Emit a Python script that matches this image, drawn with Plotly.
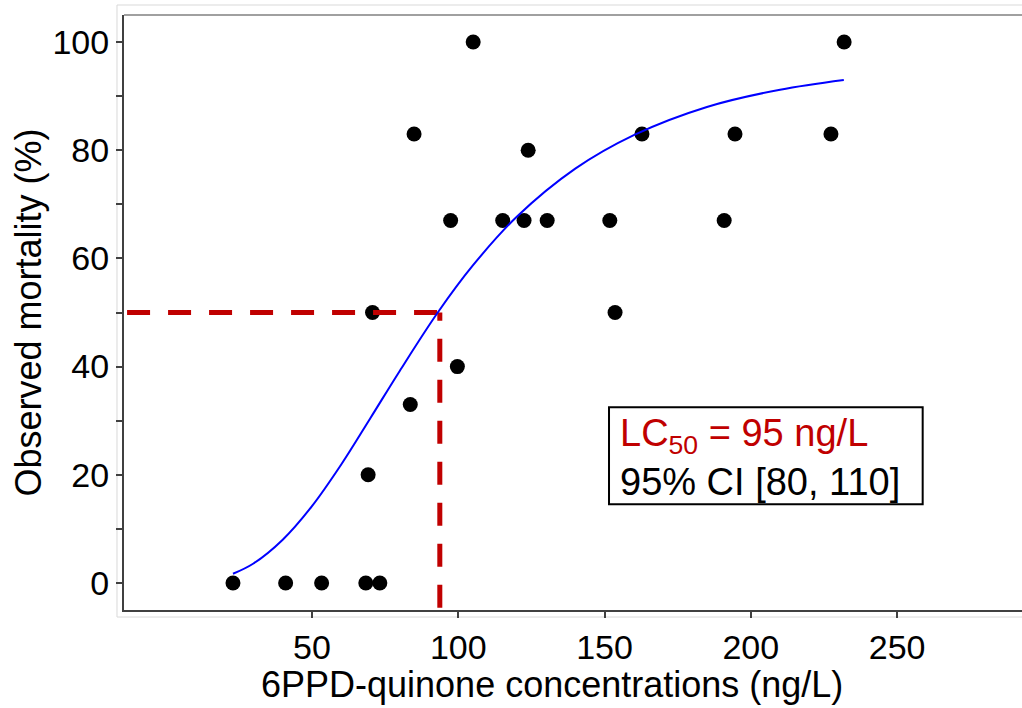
import plotly.graph_objects as go

conc = [23.0, 41.0, 53.3, 68.4, 73.2, 69.2, 70.7, 83.6, 99.7, 84.9, 97.4, 105.1,
        115.2, 122.5, 123.9, 130.4, 151.8, 153.6, 162.8, 190.9, 194.6, 227.4, 231.9]
mortality = [0, 0, 0, 0, 0, 20, 50, 33, 40, 83, 67, 100,
             67, 67, 80, 67, 67, 50, 83, 67, 83, 83, 100]

# Fitted dose-response curve
curve_x = [23, 30, 40, 50, 60, 70, 80, 93, 105, 120, 140, 160, 185, 210, 231.8]
curve_y = [1.7, 3.6, 8.0, 14.2, 21.9, 30.5, 39.2, 50, 58.7, 67.7, 76.6, 82.8, 88.0, 91.2, 93.0]

# LC50 guide lines
lc50_guide_x = 93.7
lc50_guide_y = 50

x_range = [-14.25, 292.7]
y_range = [-5, 105]
x_ticks = [50, 100, 150, 200, 250]
y_ticks = [0, 20, 40, 60, 80, 100]

FONT = "Liberation Sans, Arial, sans-serif"
RED = "#C00000"

fig = go.Figure()

fig.add_trace(go.Scatter(
    x=conc, y=mortality, mode="markers",
    marker=dict(color="black", size=15, line=dict(width=0)),
    showlegend=False, hoverinfo="skip"))

fig.add_trace(go.Scatter(
    x=[-13.2, lc50_guide_x], y=[lc50_guide_y, lc50_guide_y], mode="lines",
    line=dict(color=RED, width=5, dash="23px,18px"),
    showlegend=False, hoverinfo="skip"))

fig.add_trace(go.Scatter(
    x=[lc50_guide_x, lc50_guide_x], y=[-4.6, lc50_guide_y], mode="lines",
    line=dict(color=RED, width=5, dash="23px,18px"),
    showlegend=False, hoverinfo="skip"))

fig.add_trace(go.Scatter(
    x=curve_x, y=curve_y, mode="lines",
    line=dict(color="#0000FF", width=2, shape="spline"),
    showlegend=False, hoverinfo="skip"))

fig.update_layout(
    width=1022, height=708,
    margin=dict(l=124, r=0, t=15, b=98),
    paper_bgcolor="white", plot_bgcolor="white",
    font=dict(family=FONT, color="black"),
    xaxis=dict(
        range=x_range, tickvals=x_ticks, showgrid=False, zeroline=False,
        showline=True, linecolor="#404040", linewidth=2, mirror=False,
        ticks="outside", ticklen=6, tickwidth=1.5, tickcolor="#404040",
        tickfont=dict(size=34, family=FONT, color="black"),
    ),
    yaxis=dict(
        range=y_range, tickvals=y_ticks, showgrid=False, zeroline=False,
        showline=True, linecolor="#404040", linewidth=2, mirror=False,
        ticks="outside", ticklen=6, tickwidth=1.5, tickcolor="#404040",
        tickfont=dict(size=34, family=FONT, color="black"),
        minor=dict(dtick=10, ticks="outside", ticklen=6, tickwidth=1.5, tickcolor="#404040"),
        title=dict(text="Observed mortality (%)", font=dict(size=36, family=FONT, color="black"),
                   standoff=0),
    ),
)

# outer light frame and top border
fig.add_shape(type="rect", xref="paper", yref="paper",
              x0=-0.0078, x1=1.1, y0=-0.0118, y1=1.0168,
              line=dict(color="#d9d9d9", width=1), layer="below")
# white cover along the right edge
fig.add_shape(type="rect", xref="paper", yref="paper",
              x0=0.99, x1=1.2, y0=0.004, y1=0.996,
              line=dict(width=0), fillcolor="white", layer="above")
fig.add_shape(type="line", xref="paper", yref="paper",
              x0=0, x1=1, y0=1, y1=1,
              line=dict(color="#a0a0a0", width=2))

# LC50 box
fig.add_shape(type="rect", xref="paper", yref="paper",
              x0=0.5401, x1=0.8894, y0=0.1776, y1=0.3407,
              line=dict(color="black", width=2), fillcolor="white")
fig.add_annotation(xref="paper", yref="paper", x=0.5505, y=0.2571,
                   xanchor="left", yanchor="middle", showarrow=False, align="left",
                   text=f"<span style='color:{RED}'>LC<sub>50</sub> = 95 ng/L</span><br>95% CI [80, 110]",
                   font=dict(size=38, family=FONT, color="black"))

# x-axis title
fig.add_annotation(xref="paper", yref="paper", x=0.4766, y=-0.126,
                   xanchor="center", yanchor="middle", showarrow=False,
                   text="6PPD-quinone concentrations (ng/L)",
                   font=dict(size=36, family=FONT, color="black"))

fig.write_html("out.html", config={"displayModeBar": False},
               post_script="document.body.style.margin='0';document.body.style.overflow='hidden';")
